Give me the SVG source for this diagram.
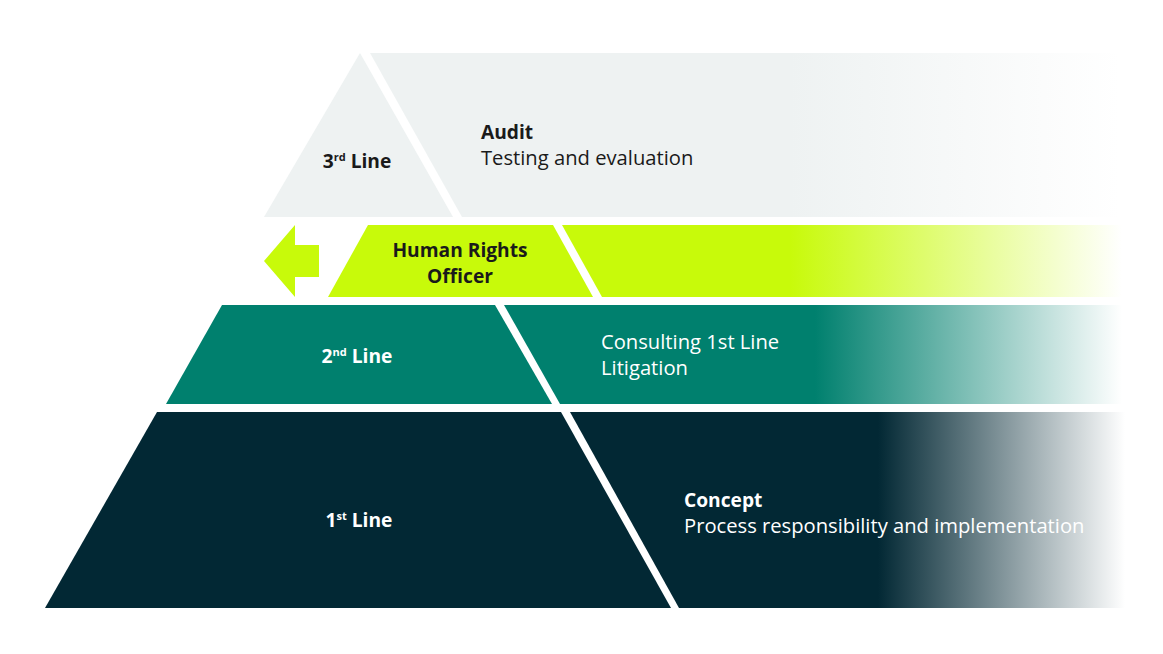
<svg xmlns="http://www.w3.org/2000/svg" width="1163" height="654" viewBox="0 0 1163 654">
<defs>
<linearGradient id="gGray" gradientUnits="userSpaceOnUse" x1="790" y1="0" x2="1120" y2="0"><stop offset="0" stop-color="#eef2f2"/><stop offset="1" stop-color="#ffffff"/></linearGradient>
<linearGradient id="gLime" gradientUnits="userSpaceOnUse" x1="790" y1="0" x2="1122" y2="0"><stop offset="0" stop-color="#c8fa0a"/><stop offset="1" stop-color="#ffffff"/></linearGradient>
<linearGradient id="gTeal" gradientUnits="userSpaceOnUse" x1="815" y1="0" x2="1122" y2="0"><stop offset="0" stop-color="#00806e"/><stop offset="1" stop-color="#ffffff"/></linearGradient>
<linearGradient id="gDark" gradientUnits="userSpaceOnUse" x1="878" y1="0" x2="1125" y2="0"><stop offset="0" stop-color="#022834"/><stop offset="1" stop-color="#ffffff"/></linearGradient>
<style>
text{font-family:"Open Sans","Noto Sans","Liberation Sans",sans-serif;font-size:20.2px}
.b{font-weight:700;font-size:19.2px}
.dk{fill:#1a1a1a}
.wt{fill:#ffffff}
.sup{font-size:11px}
</style>
</defs>
<rect width="1163" height="654" fill="#ffffff"/>
<g id="line3">
<polygon points="360,53 264,217 453,217" fill="#eef2f2"/>
<polygon points="370,53 1125,53 1125,217 462,217" fill="url(#gGray)"/>
<text class="b dk" x="357" y="168" text-anchor="middle">3<tspan class="sup" dy="-7">rd</tspan><tspan dy="7"> Line</tspan></text>
<text class="b dk" x="481" y="139">Audit</text>
<text class="dk" x="481" y="165">Testing and evaluation</text>
</g>
<g id="hro">
<polygon points="368,225 553,225 593,297 328,297" fill="#c8fa0a"/>
<polygon points="562,225 1125,225 1125,297 602,297" fill="url(#gLime)"/>
<text class="b dk" x="460" y="257" text-anchor="middle">Human Rights</text>
<text class="b dk" x="460" y="283" text-anchor="middle">Officer</text>
</g>
<g id="line2">
<polygon points="222,305 495,305 552,404 166,404" fill="#00806e"/>
<polygon points="504,305 1125,305 1125,404 560,404" fill="url(#gTeal)"/>
<text class="b wt" x="357" y="363" text-anchor="middle">2<tspan class="sup" dy="-7">nd</tspan><tspan dy="7"> Line</tspan></text>
<text class="wt" x="601" y="349">Consulting 1st Line</text>
<text class="wt" x="601" y="375">Litigation</text>
</g>
<g id="line1">
<polygon points="157,412 561,412 671,608 45,608" fill="#022834"/>
<polygon points="570,412 1125,412 1125,608 679,608" fill="url(#gDark)"/>
<text class="b wt" x="359" y="527" text-anchor="middle">1<tspan class="sup" dy="-7">st</tspan><tspan dy="7"> Line</tspan></text>
<text class="b wt" x="684" y="507">Concept</text>
<text class="wt" x="684" y="533">Process responsibility and implementation</text>
</g>
<g id="connectors">
<polygon points="264,261 295,225 295,245 319,245 319,277 295,277 295,297" fill="#c8fa0a"/>
</g>
</svg>
